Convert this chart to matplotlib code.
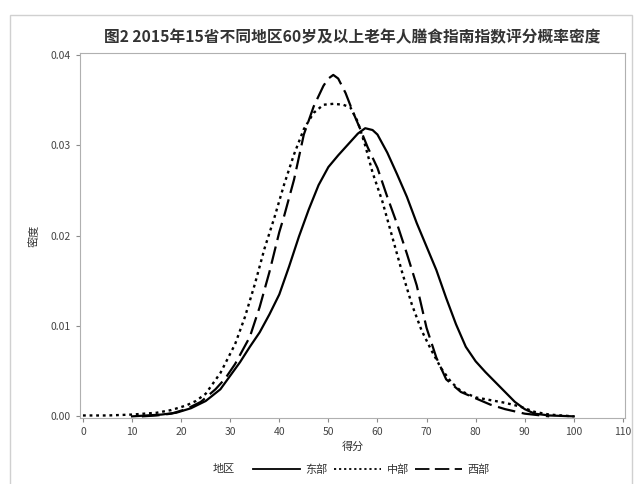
import matplotlib
matplotlib.use("Agg")
import matplotlib.pyplot as plt
from matplotlib.patches import Rectangle
from matplotlib.lines import Line2D

plt.rcParams['font.family'] = ['Noto Sans CJK SC', 'DejaVu Sans']

# --- data ---
title = "图2 2015年15省不同地区60岁及以上老年人膳食指南指数评分概率密度"
regions = ["东部", "中部", "西部"]

x_east = [10, 13, 16, 19, 22, 25, 28, 30, 32, 34, 36, 38, 40, 42, 44, 46, 48, 50, 52, 54,
          56, 57.5, 59, 60, 62, 64, 66, 68, 70, 72, 74, 76, 78, 80, 82, 84, 86, 88, 90, 92,
          95, 100]
y_east = [0.0000, 0.0001, 0.0002, 0.0004, 0.0009, 0.0017, 0.0030, 0.0045, 0.0060, 0.0077,
          0.0093, 0.0113, 0.0135, 0.0166, 0.0199, 0.0229, 0.0256, 0.0276, 0.0289, 0.0301,
          0.0313, 0.0319, 0.0317, 0.0312, 0.0292, 0.0268, 0.0243, 0.0214, 0.0188, 0.0162,
          0.0131, 0.0102, 0.0077, 0.0061, 0.0049, 0.0038, 0.0027, 0.0016, 0.0008, 0.0003,
          0.0001, 0.0000]

x_central = [0, 5, 10, 15, 18, 21, 23, 25, 28, 31, 33, 35, 37, 39, 41, 43, 45, 47, 49, 51,
             53, 54.5, 56, 57.5, 59, 61, 63, 65, 67, 69, 71, 73, 75, 77, 80, 83, 86, 89, 92,
             95, 100]
y_central = [0.0001, 0.0001, 0.0002, 0.0004, 0.0007, 0.0012, 0.0017, 0.0025, 0.0048, 0.0080,
             0.0110, 0.0146, 0.0186, 0.0220, 0.0257, 0.0290, 0.0318, 0.0336, 0.0345, 0.0346,
             0.0345, 0.0342, 0.0326, 0.0300, 0.0270, 0.0238, 0.0199, 0.0160, 0.0124, 0.0095,
             0.0073, 0.0053, 0.0038, 0.0028, 0.0021, 0.0018, 0.0015, 0.0011, 0.0005, 0.0002,
             0.0000]

x_west = [12, 15, 18, 21, 24, 27, 29, 31, 34, 36, 38, 40, 41, 43, 45, 47, 49, 50, 51, 52,
          53.5, 55, 56.5, 58, 60, 62, 64, 66, 68, 70, 72, 74, 77, 80, 83, 86, 90, 95]
y_west = [0.0000, 0.0001, 0.0003, 0.0008, 0.0016, 0.0030, 0.0042, 0.0058, 0.0088, 0.0121,
          0.0160, 0.0204, 0.0222, 0.0262, 0.0312, 0.0343, 0.0366, 0.0374, 0.0378, 0.0374,
          0.0358, 0.0337, 0.0318, 0.0298, 0.0275, 0.0243, 0.0213, 0.0180, 0.0145, 0.0098,
          0.0065, 0.0041, 0.0027, 0.0020, 0.0013, 0.0008, 0.0003, 0.0000]

x_ticks = [0, 10, 20, 30, 40, 50, 60, 70, 80, 90, 100, 110]
y_ticks = [0.00, 0.01, 0.02, 0.03, 0.04]

# --- figure ---
fig = plt.figure(figsize=(6.35, 4.84), dpi=100)
ax = fig.add_axes([0.126, 0.136, 0.858, 0.754])

grey = "#8a8a8a"
ax.plot(x_east, y_east, color="black", lw=1.6, linestyle="-", label=regions[0])
ax.plot(x_central, y_central, color="black", lw=1.7, linestyle=(0, (1.2, 1.6)), label=regions[1])
ax.plot(x_west, y_west, color="black", lw=1.6, linestyle=(0, (8, 3)), label=regions[2])

ax.set_xlim(-0.6, 110.4)
ax.set_ylim(-0.0002, 0.0402)
ax.set_xticks(x_ticks)
ax.set_yticks(y_ticks)
ax.set_yticklabels([f"{v:.2f}" for v in y_ticks])
ax.tick_params(direction="out", length=3, color=grey, labelsize=7.5, labelcolor="#444444")
for s in ax.spines.values():
    s.set_color("#b0b0b0")
    s.set_linewidth(0.8)

ax.set_xlabel("得分", fontsize=8, color="#333333", labelpad=3)
ax.set_ylabel("密度", fontsize=8, color="#333333", labelpad=8)
ax.set_title(title, fontsize=11.3, fontweight="bold", color="#333333", pad=8)

# legend row: "地区" then the three samples
fig.text(0.37, 0.030, "地区", fontsize=8, color="#333333", ha="right", va="center")
handles = [Line2D([], [], color="black", lw=1.3, linestyle="-"),
           Line2D([], [], color="black", lw=1.3, linestyle=(0, (1.2, 1.6))),
           Line2D([], [], color="black", lw=1.3, linestyle=(0, (8, 3)))]
fig.legend(handles, regions, loc="center", bbox_to_anchor=(0.585, 0.030), ncol=3,
           frameon=False, fontsize=8, handlelength=4.2, handletextpad=0.5,
           columnspacing=0.6, labelcolor="#333333")

# light outer frame like the source figure
fig.patches.append(Rectangle((0.016, -0.01), 0.979, 0.98, transform=fig.transFigure,
                             fill=False, edgecolor="#d0d0d0", lw=1.0))

fig.savefig("out.png", dpi=100)
